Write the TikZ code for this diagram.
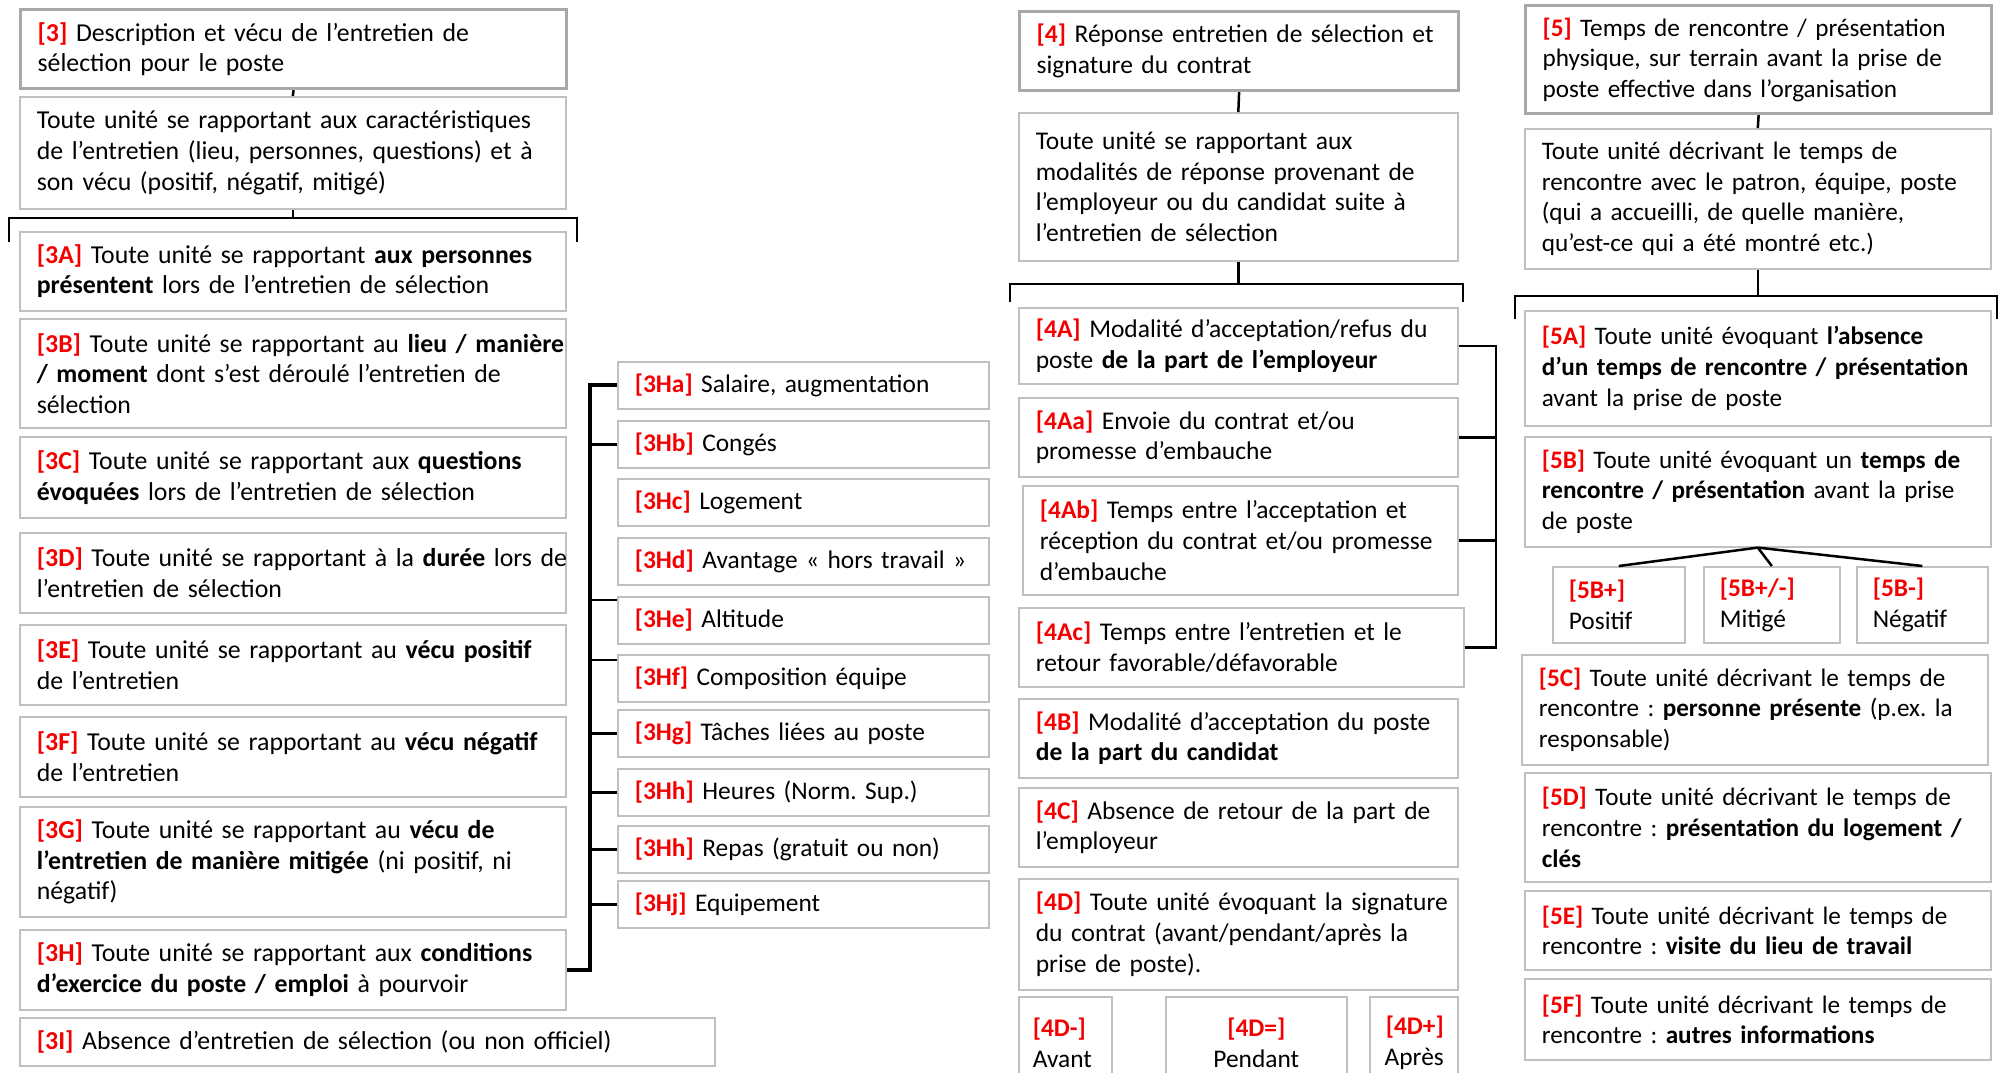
\documentclass[tikz,border=0pt]{standalone}
\usepackage{fontspec}
\setmainfont{Carlito}
\frenchspacing
\usetikzlibrary{calc}
\definecolor{lblred}{RGB}{245,0,0}
\definecolor{boxgray}{RGB}{192,192,192}
\definecolor{ttlgray}{RGB}{168,168,168}
\newcommand{\lab}[1]{\textcolor{lblred}{\textbf{[#1]}}}
\tikzset{
  bx/.style={draw=boxgray, line width=0.8pt, anchor=north west, inner xsep=8.5pt, inner ysep=0pt,
    font=\fontsize{12.9pt}{15.3pt}\selectfont,
    execute at begin node={\frenchspacing\rightskip=0pt plus 1fil minus 40pt\relax}},
  ttl/.style={bx, draw=ttlgray, line width=1.6pt},
  fL/.style={font=\fontsize{12.9pt}{15.3pt}\selectfont},
  fM/.style={font=\fontsize{12.75pt}{15.3pt}\selectfont},
  fR/.style={font=\fontsize{12.6pt}{15.3pt}\selectfont},
  colL/.style={fL, minimum width=273pt, text width=256pt},
  colM/.style={fM, minimum width=219.5pt, text width=202.5pt},
  colR/.style={fR, minimum width=233pt, text width=216pt},
  subbox/.style={bx, font=\fontsize{12.7pt}{15.3pt}\selectfont, minimum width=185.5pt, text width=168.5pt, minimum height=23.5pt},
  small/.style={draw=boxgray, line width=0.8pt, anchor=north west, inner xsep=8pt, inner ysep=0pt,
    font=\fontsize{12.7pt}{15.3pt}\selectfont, align=left},
  conn/.style={line width=1.25pt, draw=black},
  hconn/.style={line width=1.9pt, draw=black},
}
\begin{document}
\begin{tikzpicture}[x=0.5pt,y=-0.5pt]
\fill[white] (0,0) rectangle (2000,1072);
\useasboundingbox (0,0) rectangle (2000,1072);

% ---------------- column 3 ----------------
\node[ttl, colL, minimum height=39.5pt] (b3) at (19,8) {\lab{3} Description et vécu de l’entretien de\\ sélection pour le poste};
\node[bx, colL, minimum height=56pt] (d3) at (19,96) {Toute unité se rapportant aux caractéristiques\\ de l’entretien (lieu, personnes, questions) et à\\ son vécu (positif, négatif, mitigé)};
\node[bx, colL, minimum height=39.5pt] (n3A) at (19,231) {\lab{3A} Toute unité se rapportant \textbf{aux personnes}\\ \textbf{présentent} lors de l’entretien de sélection};
\node[bx, colL, minimum height=54.5pt] (n3B) at (19,318) {\lab{3B} Toute unité se rapportant au \textbf{lieu / manière}\\ \textbf{/ moment} dont s’est déroulé l’entretien de\\ sélection};
\node[bx, colL, minimum height=40.5pt] (n3C) at (19,436) {\lab{3C} Toute unité se rapportant aux \textbf{questions}\\ \textbf{évoquées} lors de l’entretien de sélection};
\node[bx, colL, minimum height=40pt] (n3D) at (19,532) {\lab{3D} Toute unité se rapportant à la \textbf{durée} lors de\\ l’entretien de sélection};
\node[bx, colL, minimum height=40pt] (n3E) at (19,624) {\lab{3E} Toute unité se rapportant au \textbf{vécu positif}\\ de l’entretien};
\node[bx, colL, minimum height=40pt] (n3F) at (19,716) {\lab{3F} Toute unité se rapportant au \textbf{vécu négatif}\\ de l’entretien};
\node[bx, colL, minimum height=55pt] (n3G) at (19,806) {\lab{3G} Toute unité se rapportant au \textbf{vécu de}\\ \textbf{l’entretien de manière mitigée} (ni positif, ni\\ négatif)};
\node[bx, colL, minimum height=40pt] (n3H) at (19,929) {\lab{3H} Toute unité se rapportant aux \textbf{conditions}\\ \textbf{d’exercice du poste / emploi} à pourvoir};
\node[bx, fL, minimum width=347.5pt, text width=330.5pt, minimum height=24pt] (n3I) at (19,1017) {\lab{3I} Absence d’entretien de sélection (ou non officiel)};

\node[subbox] (n3Ha) at (617,361) {\lab{3Ha} Salaire, augmentation};
\node[subbox] (n3Hb) at (617,420) {\lab{3Hb} Congés};
\node[subbox] (n3Hc) at (617,478) {\lab{3Hc} Logement};
\node[subbox] (n3Hd) at (617,537) {\lab{3Hd} Avantage «~hors travail~»};
\node[subbox] (n3He) at (617,596) {\lab{3He} Altitude};
\node[subbox] (n3Hf) at (617,654) {\lab{3Hf} Composition équipe};
\node[subbox] (n3Hg) at (617,709) {\lab{3Hg} Tâches liées au poste};
\node[subbox] (n3Hh) at (617,768) {\lab{3Hh} Heures (Norm. Sup.)};
\node[subbox] (n3Hi) at (617,825) {\lab{3Hh} Repas (gratuit ou non)};
\node[subbox] (n3Hj) at (617,880) {\lab{3Hj} Equipement};

\draw[conn] (b3.south) -- (d3.north);
\coordinate (L3l) at (9,218);
\coordinate (L3r) at (577,218);
\draw[conn] (d3.south) -- (d3.south |- L3l);
\draw[conn] ($(L3l)+(0,24)$) -- (L3l) -- (L3r) -- ($(L3r)+(0,24)$);

\coordinate (hv) at (590,0);
\draw[hconn] (n3H.east) -- (n3H.east -| hv) -- (hv |- n3Ha.west) -- (n3Ha.west);
\draw[conn] (hv |- n3Hb.west) -- (n3Hb.west);
\draw[conn] ($(hv |- n3He.north west)+(0,4)$) -- ($(n3He.north west)+(0,4)$);
\draw[conn] ($(hv |- n3Hf.north west)+(0,6)$) -- ($(n3Hf.north west)+(0,6)$);
\draw[conn] (hv |- n3Hg.west) -- (n3Hg.west);
\draw[conn] (hv |- n3Hh.west) -- (n3Hh.west);
\draw[conn] (hv |- n3Hi.west) -- (n3Hi.west);
\draw[conn] (hv |- n3Hj.west) -- (n3Hj.west);

% ---------------- column 4 ----------------
\node[ttl, colM, minimum height=39.5pt] (b4) at (1018,10) {\lab{4} Réponse entretien de sélection et\\ signature du contrat};
\node[bx, colM, minimum height=74pt] (d4) at (1018,112) {Toute unité se rapportant aux\\ modalités de réponse provenant de\\ l’employeur ou du candidat suite à\\ l’entretien de sélection};
\node[bx, colM, minimum height=38pt] (n4A) at (1018,307) {\lab{4A} Modalité d’acceptation/refus du\\ poste \textbf{de la part de l’employeur}};
\node[bx, colM, minimum height=39.5pt] (n4Aa) at (1018,397) {\lab{4Aa} Envoie du contrat et/ou\\ promesse d’embauche};
\node[bx, fM, minimum width=217.5pt, text width=200.5pt, minimum height=54.5pt] (n4Ab) at (1022,485) {\lab{4Ab} Temps entre l’acceptation et\\ réception du contrat et/ou promesse\\ d’embauche};
\node[bx, fM, minimum width=222.5pt, text width=205.5pt, minimum height=39.5pt] (n4Ac) at (1018,607) {\lab{4Ac} Temps entre l’entretien et le\\ retour favorable/défavorable};
\node[bx, colM, minimum height=39.5pt] (n4B) at (1018,698) {\lab{4B} Modalité d’acceptation du poste\\ \textbf{de la part du candidat}};
\node[bx, colM, minimum height=39.5pt] (n4C) at (1018,787) {\lab{4C} Absence de retour de la part de\\ l’employeur};
\node[bx, colM, minimum height=55.5pt] (n4D) at (1018,878) {\lab{4D} Toute unité évoquant la signature\\ du contrat (avant/pendant/après la\\ prise de poste).};
\node[small, inner xsep=7pt, minimum width=46.5pt, text width=32.5pt, minimum height=46pt] (n4Dm) at (1018,996) {\lab{4D-}\\ Avant};
\node[small, inner xsep=7pt, minimum width=90.5pt, text width=76.5pt, minimum height=46pt, align=center] (n4De) at (1165,996) {\lab{4D=}\\ Pendant};
\node[small, inner xsep=7pt, minimum width=44pt, text width=30pt, minimum height=46pt, align=right] (n4Dp) at (1369,996) {\lab{4D+}\\ Après};

\draw[conn] (b4.south) -- (d4.north);
\coordinate (L4l) at (1010,284);
\coordinate (L4r) at (1463,284);
\draw[conn] (d4.south) -- (d4.south |- L4l);
\draw[conn] ($(L4l)+(0,18)$) -- (L4l) -- (L4r) -- ($(L4r)+(0,18)$);

\coordinate (av) at (1496,0);
\draw[conn] (n4A.east) -- (n4A.east -| av) -- (av |- n4Ac.east) -- (n4Ac.east);
\draw[conn] (av |- n4Aa.east) -- (n4Aa.east);
\draw[conn] (av |- n4Ab.east) -- (n4Ab.east);

% ---------------- column 5 ----------------
\node[ttl, colR, minimum height=54pt] (b5) at (1524,4) {\lab{5} Temps de rencontre / présentation\\ physique, sur terrain avant la prise de\\ poste effective dans l’organisation};
\node[bx, colR, minimum height=70pt] (d5) at (1524,128) {Toute unité décrivant le temps de\\ rencontre avec le patron, équipe, poste\\ (qui a accueilli, de quelle manière,\\ qu’est-ce qui a été montré etc.)};
\node[bx, colR, minimum height=57.5pt] (n5A) at (1524,310) {\lab{5A} Toute unité évoquant \textbf{l’absence}\\ \textbf{d’un temps de rencontre / présentation}\\ avant la prise de poste};
\node[bx, colR, minimum height=55pt] (n5B) at (1524,436) {\lab{5B} Toute unité évoquant un \textbf{temps de}\\ \textbf{rencontre / présentation} avant la prise\\ de poste};
\node[small, minimum width=66pt, text width=50pt, minimum height=38pt] (n5Bp) at (1552,566) {\lab{5B+}\\ Positif};
\node[small, minimum width=68pt, text width=52pt, minimum height=38pt] (n5Bpm) at (1703,566) {\lab{5B+/-}\\ Mitigé};
\node[small, minimum width=65.5pt, text width=49.5pt, minimum height=38pt] (n5Bm) at (1856,566) {\lab{5B-}\\ Négatif};
\node[bx, colR, minimum height=55pt] (n5C) at (1521,654) {\lab{5C} Toute unité décrivant le temps de\\ rencontre : \textbf{personne présente} (p.ex. la\\ responsable)};
\node[bx, colR, minimum height=54.5pt] (n5D) at (1524,772) {\lab{5D} Toute unité décrivant le temps de\\ rencontre : \textbf{présentation du logement /}\\ \textbf{clés}};
\node[bx, colR, minimum height=39.5pt] (n5E) at (1524,890) {\lab{5E} Toute unité décrivant le temps de\\ rencontre : \textbf{visite du lieu de travail}};
\node[bx, colR, minimum height=40.5pt] (n5F) at (1524,978) {\lab{5F} Toute unité décrivant le temps de\\ rencontre : \textbf{autres informations}};

\draw[conn] (b5.south) -- (d5.north);
\coordinate (L5l) at (1515,296);
\coordinate (L5r) at (1997,296);
\draw[conn] (d5.south) -- (d5.south |- L5l);
\draw[conn] ($(L5l)+(0,23)$) -- (L5l) -- (L5r) -- ($(L5r)+(0,23)$);

\draw[conn] (n5B.south) -- (n5Bp.north);
\draw[conn] (n5B.south) -- (n5Bpm.north);
\draw[conn] (n5B.south) -- (n5Bm.north);
\end{tikzpicture}
\end{document}
